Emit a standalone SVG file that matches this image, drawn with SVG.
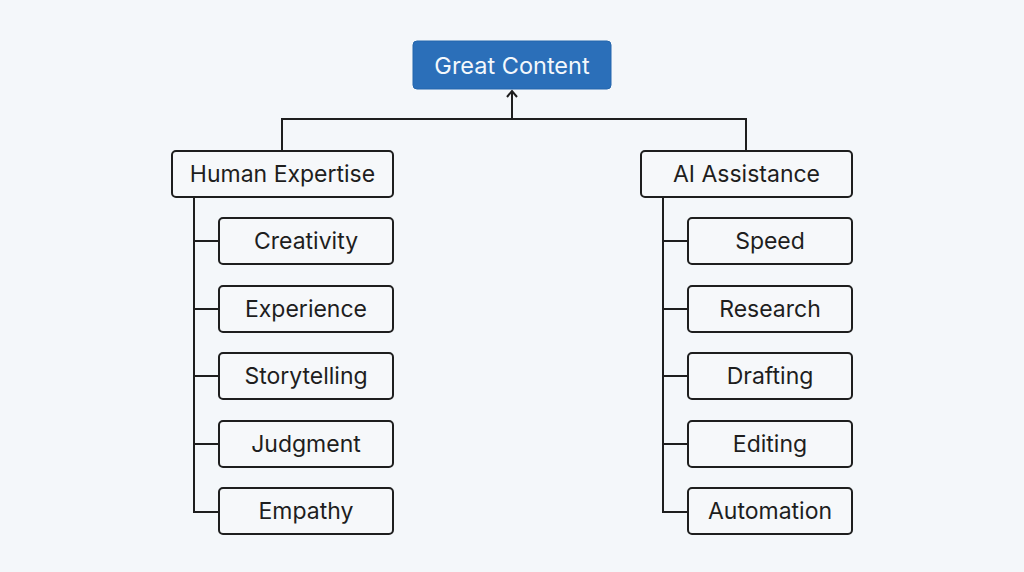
<svg xmlns="http://www.w3.org/2000/svg" width="1024" height="572" viewBox="0 0 1024 572">
<defs>
<style>
.bg{fill:#f4f7fa}
.box{fill:#f6f8fa;stroke:#1e1e1e;stroke-width:2}
.root{fill:#2b6fb9;stroke:#2466ad;stroke-width:1}
.t{font-family:Inter,"Liberation Sans",sans-serif;font-size:23px;fill:#1e1e1e;text-anchor:middle;dominant-baseline:central}
.tw{fill:#f4f8fc;font-size:23.5px}
.ln{fill:none;stroke:#1e1e1e;stroke-width:2}
</style>
<marker id="arr" viewBox="0 0 12 12" refX="10" refY="6" markerWidth="12" markerHeight="12" markerUnits="userSpaceOnUse" orient="auto">
<path d="M4,1 L10,6 L4,11" fill="none" stroke="#1e1e1e" stroke-width="2"/>
</marker>
</defs>
<rect class="bg" x="0" y="0" width="1024" height="572"/>
<g id="connectors">
<path class="ln" d="M512,119 V91" marker-end="url(#arr)"/>
<path class="ln" d="M282,151 V119 H746 V151"/>
<path class="ln" d="M194,197 V512 H219 M194,241 H219 M194,309 H219 M194,376 H219 M194,444 H219"/>
<path class="ln" d="M663,197 V512 H688 M663,241 H688 M663,309 H688 M663,376 H688 M663,444 H688"/>
</g>
<g id="great-content"><rect class="root" x="413" y="41" width="198" height="48" rx="4"/><text class="t tw" x="512" y="65">Great Content</text></g>
<g id="human-expertise"><rect class="box" x="172" y="151" width="221" height="46" rx="4"/><text class="t" x="282.5" y="174">Human Expertise</text></g>
<g id="ai-assistance"><rect class="box" x="641" y="151" width="211" height="46" rx="4"/><text class="t" x="746.5" y="174">AI Assistance</text></g>
<g id="creativity"><rect class="box" x="219" y="218" width="174" height="46" rx="4"/><text class="t" x="306" y="241">Creativity</text></g>
<g id="experience"><rect class="box" x="219" y="286" width="174" height="46" rx="4"/><text class="t" x="306" y="309">Experience</text></g>
<g id="storytelling"><rect class="box" x="219" y="353" width="174" height="46" rx="4"/><text class="t" x="306" y="376">Storytelling</text></g>
<g id="judgment"><rect class="box" x="219" y="421" width="174" height="46" rx="4"/><text class="t" x="306" y="444">Judgment</text></g>
<g id="empathy"><rect class="box" x="219" y="488" width="174" height="46" rx="4"/><text class="t" x="306" y="511">Empathy</text></g>
<g id="speed"><rect class="box" x="688" y="218" width="164" height="46" rx="4"/><text class="t" x="770" y="241">Speed</text></g>
<g id="research"><rect class="box" x="688" y="286" width="164" height="46" rx="4"/><text class="t" x="770" y="309">Research</text></g>
<g id="drafting"><rect class="box" x="688" y="353" width="164" height="46" rx="4"/><text class="t" x="770" y="376">Drafting</text></g>
<g id="editing"><rect class="box" x="688" y="421" width="164" height="46" rx="4"/><text class="t" x="770" y="444">Editing</text></g>
<g id="automation"><rect class="box" x="688" y="488" width="164" height="46" rx="4"/><text class="t" x="770" y="511">Automation</text></g>
</svg>
